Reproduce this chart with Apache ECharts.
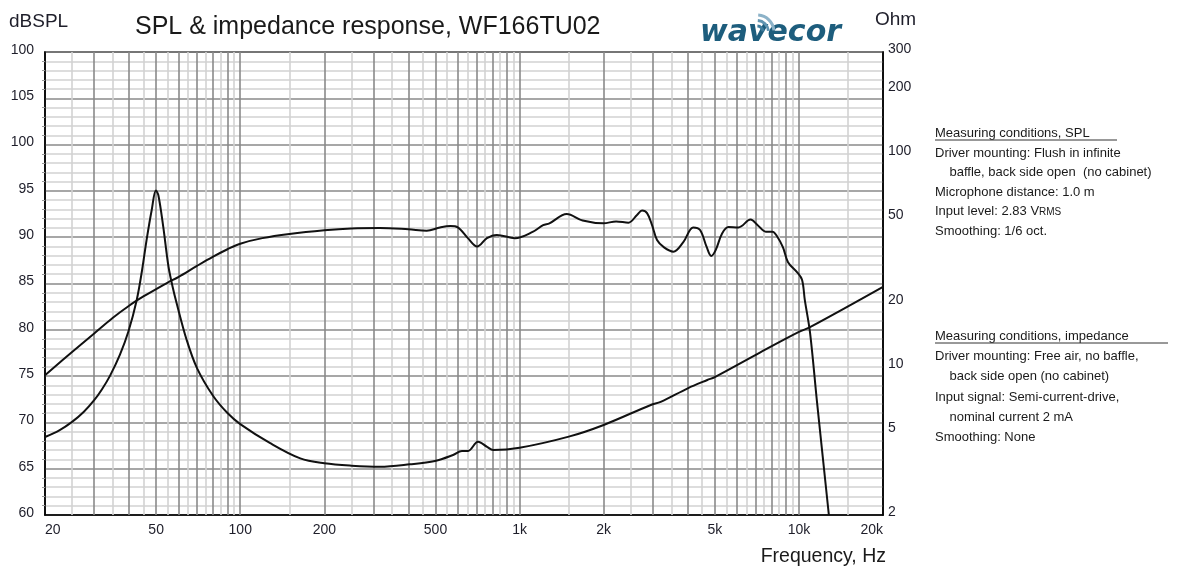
<!DOCTYPE html>
<html lang="en">
<head>
    <meta charset="utf-8"/>
    <title>SPL & impedance response, WF166TU02</title>
    <script src="https://cdn.jsdelivr.net/npm/echarts@6/dist/echarts.min.js"></script>
</head>
<body style="margin:0;background:#fff;">
<div id="chart" style="width:1202px;height:566px;"></div>
<script type="text/javascript">
    // SPL response (Hz, dB)
    const splFreq = [20, 25, 30, 35, 40, 45, 50, 55, 60, 70, 80, 90, 100, 120, 150, 200, 250, 316,
        400, 465, 519, 566, 601, 653, 705, 764, 829, 963, 1118, 1214, 1279, 1475, 1682, 1995, 2216, 2453,
        2633, 2744, 2860, 2980, 3105, 3290, 3553, 3861, 4183, 4427, 4670, 4853, 5035, 5309, 5597, 6070,
        6714, 7120, 7611, 8035, 8369, 8770, 9140, 9860, 10260, 10500, 10960, 11600, 12800];
    const splDb = [75.1, 77.6, 79.6, 81.3, 82.6, 83.6, 84.4, 85.1, 85.7, 86.9, 87.9, 88.7, 89.3, 89.9, 90.35, 90.75, 90.95, 91.0,
        90.85, 90.7, 91.05, 91.2, 91.06, 89.9, 89.0, 89.9, 90.25, 89.9, 90.6, 91.3, 91.5, 92.5, 91.8, 91.5, 91.7, 91.57,
        92.4, 92.87, 92.6, 91.3, 89.7, 88.9, 88.44, 89.5, 91.06, 90.78, 88.98, 87.97, 88.6, 90.4, 91.1, 91.06,
        91.9, 91.3, 90.6, 90.6, 90.05, 88.9, 87.3, 86.2, 85.4, 83.2, 79.7, 72.3, 60.0];

    // impedance (Hz, Ohm)
    const impFreq = [20, 22.5, 25, 27.5, 30, 32, 34.2, 37.1, 39.8, 42.6, 44.5, 46.2, 48.2, 49.9, 50.9, 53, 55.3,
        57.2, 59.2, 64.3, 70, 80, 90, 100, 128, 164, 200, 250, 316, 405, 498, 578, 622, 654, 710, 765, 804, 1000,
        1500, 2000, 2950, 3200, 4000, 4700, 5000, 7250, 10000, 11000, 20000];
    const impOhm = [4.65, 5.0, 5.48, 6.1, 6.93, 7.8, 9.04, 11.35, 14.6, 20.5, 28.2, 39.2, 54.3, 67, 63.8, 45.3, 29.6,
        23.8, 19.8, 13.3, 9.81, 7.25, 6.03, 5.35, 4.35, 3.69, 3.5, 3.41, 3.37, 3.46, 3.59, 3.83, 4.0, 4.0, 4.42, 4.18, 4.04, 4.14,
        4.67, 5.3, 6.58, 6.8, 7.88, 8.62, 8.9, 11.6, 14.5, 15.3, 23.6];

    const freqLabels = [20, 50, 100, 200, 500, 1000, 2000, 5000, 10000, 20000];
    const dbLabels = ['60', '65', '70', '75', '80', '85', '90', '95', '100', '105', '100'];
    const ohmLabels = [2, 5, 10, 20, 50, 100, 200, 300];

    // log grid lines of the frequency axis
    let majorLines = [], minorLines = [];
    [10, 100, 1000, 10000].forEach(function (dec) {
        for (let k = 1; k <= 9; k++) {
            let v = k * dec;
            if (v > 20 && v < 20000) majorLines.push(v);
            let m = (k + 0.5) * dec;
            if (m > 20 && m < 20000) minorLines.push(m);
        }
    });

    function gridLines(vals, color) {
        return vals.map(function (v) {
            return {xAxis: v, lineStyle: {color: color, width: 1.6, type: 'solid'}};
        });
    }

    const textColor = '#1e1e2a';
    const note = '"Liberation Sans Narrow", "Liberation Sans", sans-serif';
    const logoBlue = '#1d5d7d';

    let chart = echarts.init(document.getElementById('chart'), null, {renderer: 'canvas'});
    chart.setOption({
        animation: false,
        backgroundColor: '#fff',
        grid: {
            left: 45, right: 319, top: 52, bottom: 51,
            show: true, borderColor: '#000', borderWidth: 1.5
        },
        xAxis: {
            type: 'log', logBase: 10, min: 20, max: 20000,
            axisLine: {lineStyle: {color: '#000', width: 1.5}},
            axisTick: {show: false},
            splitLine: {show: false},
            axisLabel: {
                customValues: freqLabels,
                color: textColor, fontSize: 14, fontFamily: 'Liberation Sans', margin: 8,
                alignMinLabel: 'left', alignMaxLabel: 'right',
                formatter: function (v) {
                    return v >= 1000 ? (v / 1000) + 'k' : String(v);
                }
            }
        },
        yAxis: [{
            type: 'value', min: 60, max: 110, interval: 5,
            axisLine: {show: true, lineStyle: {color: '#000', width: 1.5}},
            axisTick: {show: false},
            minorTick: {show: true, splitNumber: 5, length: 3, lineStyle: {color: '#999'}},
            splitLine: {show: true, lineStyle: {color: '#8a8a8a', width: 1.6}},
            minorSplitLine: {show: true, lineStyle: {color: '#d2d2d2', width: 1.6}},
            axisLabel: {
                color: textColor, fontSize: 14, fontFamily: 'Liberation Sans', margin: 11,
                verticalAlign: 'bottom', lineHeight: 4,
                formatter: function (v) {
                    return dbLabels[Math.round((v - 60) / 5)];
                }
            }
        }, {
            type: 'log', logBase: 10, min: 2, max: 300, position: 'right',
            axisLine: {show: true, lineStyle: {color: '#000', width: 1.5}},
            axisTick: {show: false},
            splitLine: {show: false},
            axisLabel: {
                customValues: ohmLabels,
                color: textColor, fontSize: 14, fontFamily: 'Liberation Sans', margin: 5,
                verticalAlign: 'bottom', lineHeight: 5
            }
        }],
        series: [{
            name: 'grid',
            type: 'line',
            data: [],
            silent: true,
            markLine: {
                silent: true, symbol: 'none', z: 1, animation: false,
                label: {show: false},
                data: gridLines(minorLines, '#d2d2d2').concat(gridLines(majorLines, '#8a8a8a'))
            }
        }, {
            name: 'SPL',
            type: 'line',
            z: 5,
            yAxisIndex: 0,
            smooth: 0.35,
            showSymbol: false,
            lineStyle: {color: '#111', width: 2},
            data: splFreq.map(function (f, i) { return [f, splDb[i]]; })
        }, {
            name: 'Impedance',
            type: 'line',
            z: 5,
            yAxisIndex: 1,
            smooth: 0.35,
            showSymbol: false,
            lineStyle: {color: '#111', width: 2},
            data: impFreq.map(function (f, i) { return [f, impOhm[i]]; })
        }],
        graphic: [
            {type: 'text', left: 135, top: 15, style: {text: 'SPL & impedance response, WF166TU02', fontSize: 25, fontFamily: 'Liberation Sans', fill: '#1a1a1a'}},
            {type: 'text', left: 9, top: 12, style: {text: 'dBSPL', fontSize: 19, fontFamily: 'Liberation Sans', fill: textColor}},
            {type: 'text', left: 875, top: 10, style: {text: 'Ohm', fontSize: 19, fontFamily: 'Liberation Sans', fill: textColor}},
            {type: 'text', right: 1202 - 886, top: 547, style: {text: 'Frequency, Hz', fontSize: 19.5, fontFamily: 'Liberation Sans', fill: '#1a1a1a'}},
            // logo
            {type: 'text', left: 700, top: 18, style: {text: 'wavecor', fontSize: 30, fontWeight: 'bold', fontStyle: 'italic', fontFamily: 'DejaVu Sans', fill: logoBlue}},
            {type: 'arc', shape: {cx: 757, cy: 32, r: 6, startAngle: -1.5, endAngle: -0.1}, style: {stroke: '#3f7c9c', lineWidth: 3, fill: null}},
            {type: 'arc', shape: {cx: 757, cy: 32, r: 11.5, startAngle: -1.5, endAngle: -0.1}, style: {stroke: '#5f93b0', lineWidth: 3, fill: null}},
            {type: 'arc', shape: {cx: 757, cy: 32, r: 17, startAngle: -1.5, endAngle: -0.1}, style: {stroke: '#8cb2c8', lineWidth: 3, fill: null}},
            // measuring notes
            {type: 'text', left: 935, top: 124, style: {
                text: 'Measuring conditions, SPL\nDriver mounting: Flush in infinite\n    baffle, back side open  (no cabinet)\nMicrophone distance: 1.0 m\nInput level: 2.83 V{s|RMS}\nSmoothing: 1/6 oct.',
                fontSize: 13, lineHeight: 19.5, fontFamily: note, fill: '#1a1a1a',
                rich: {s: {fontSize: 10, fontFamily: note, fill: '#1a1a1a'}}
            }},
            {type: 'line', shape: {x1: 935, y1: 140, x2: 1117, y2: 140}, style: {stroke: '#333', lineWidth: 1}},
            {type: 'text', left: 935, top: 326, style: {
                text: 'Measuring conditions, impedance\nDriver mounting: Free air, no baffle,\n    back side open (no cabinet)\nInput signal: Semi-current-drive,\n    nominal current 2 mA\nSmoothing: None',
                fontSize: 13, lineHeight: 20.3, fontFamily: note, fill: '#1a1a1a'
            }},
            {type: 'line', shape: {x1: 935, y1: 343, x2: 1168, y2: 343}, style: {stroke: '#333', lineWidth: 1}}
        ]
    });
</script>
</body>
</html>
